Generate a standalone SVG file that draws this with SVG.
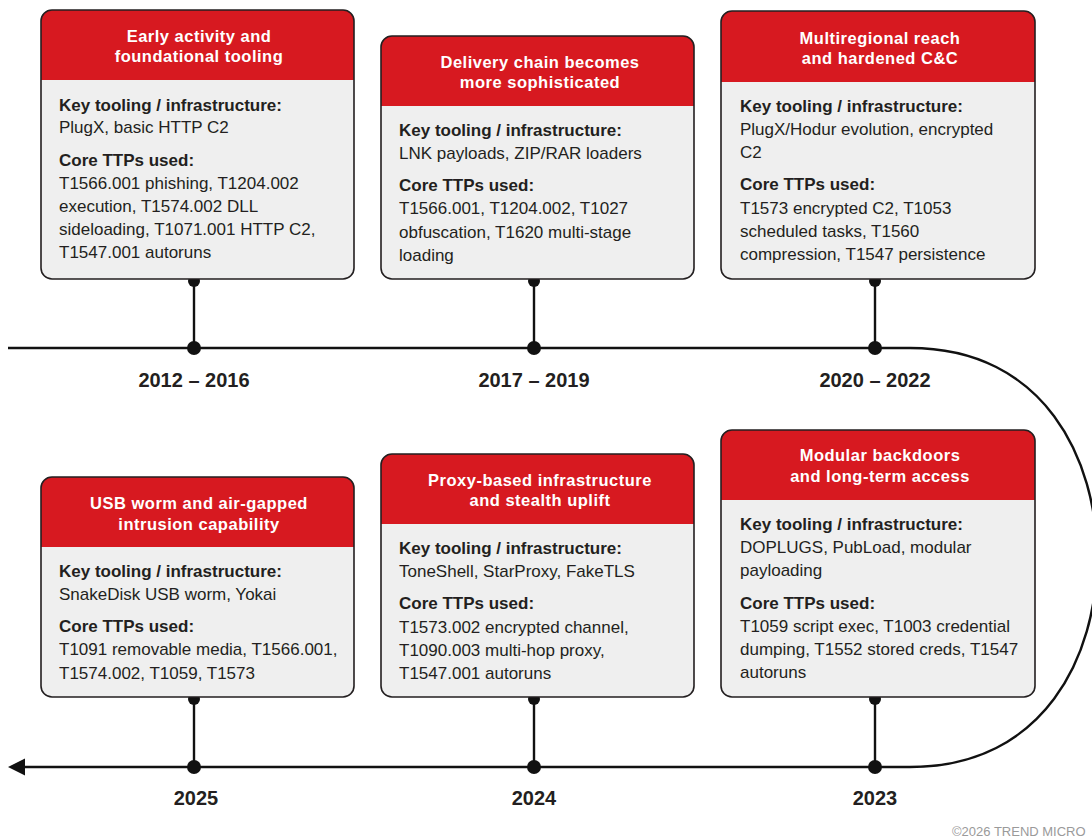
<svg xmlns="http://www.w3.org/2000/svg" width="1092" height="840" viewBox="0 0 1092 840">
<style>
.box{fill:#efefef;stroke:none}
.frame{fill:none;stroke:#231f20;stroke-width:1.6}
.hdr{fill:#d71920}
.ttl{font-family:"Liberation Sans",Arial,sans-serif;font-size:16.5px;font-weight:bold;fill:#fff;text-anchor:middle;letter-spacing:0.5px}
.lbl{font-family:"Liberation Sans",Arial,sans-serif;font-size:17px;font-weight:bold;fill:#231f20}
.txt{font-family:"Liberation Sans",Arial,sans-serif;font-size:17px;fill:#231f20}
.yr{font-family:"Liberation Sans",Arial,sans-serif;font-size:20px;font-weight:bold;fill:#231f20;text-anchor:middle}
.ln{fill:none;stroke:#111;stroke-width:2.4}
.dot{fill:#111}
.copy{font-family:"Liberation Sans",Arial,sans-serif;font-size:13px;fill:#9a9a9a}
</style>

<g id="connectors">
<path class="ln" d="M8,348 H910 C1045,348 1097,460 1097,557.5 C1097,655 1045,767 910,767 H24"/>
<path d="M8,767 L25,758.5 L25,775.5 Z" fill="#111"/>
<line class="ln" x1="194" y1="279" x2="194" y2="348"/>
<line class="ln" x1="534" y1="279" x2="534" y2="348"/>
<line class="ln" x1="875" y1="279" x2="875" y2="348"/>
<line class="ln" x1="194" y1="697" x2="194" y2="767"/>
<line class="ln" x1="534" y1="697" x2="534" y2="767"/>
<line class="ln" x1="875" y1="697" x2="875" y2="767"/>
<circle class="dot" cx="194" cy="281" r="6"/>
<circle class="dot" cx="534" cy="281" r="6"/>
<circle class="dot" cx="875" cy="281" r="6"/>
<circle class="dot" cx="194" cy="348" r="7"/>
<circle class="dot" cx="534" cy="348" r="7"/>
<circle class="dot" cx="875" cy="348" r="7"/>
<circle class="dot" cx="194" cy="699" r="6"/>
<circle class="dot" cx="534" cy="699" r="6"/>
<circle class="dot" cx="875" cy="699" r="6"/>
<circle class="dot" cx="194" cy="767" r="7"/>
<circle class="dot" cx="534" cy="767" r="7"/>
<circle class="dot" cx="875" cy="767" r="7"/>
</g>

<g id="node-2012-2016">
<rect class="box" x="41" y="10" width="313" height="269" rx="11"/>
<path class="hdr" d="M41,80 V21 A11,11 0 0 1 52,10 H343 A11,11 0 0 1 354,21 V80 Z"/>
<rect class="frame" x="41" y="10" width="313" height="269" rx="11"/>
<text class="ttl" x="199" y="42">Early activity and</text>
<text class="ttl" x="199" y="62">foundational tooling</text>
<text class="lbl" x="59" y="111">Key tooling / infrastructure:</text>
<text class="txt" x="59" y="133">PlugX, basic HTTP C2</text>
<text class="lbl" x="59" y="166">Core TTPs used:</text>
<text class="txt" x="59" y="189">T1566.001 phishing, T1204.002</text>
<text class="txt" x="59" y="212">execution, T1574.002 DLL</text>
<text class="txt" x="59" y="235">sideloading, T1071.001 HTTP C2,</text>
<text class="txt" x="59" y="258">T1547.001 autoruns</text>
</g>

<g id="node-2017-2019">
<rect class="box" x="381" y="36" width="313" height="243" rx="11"/>
<path class="hdr" d="M381,106 V47 A11,11 0 0 1 392,36 H683 A11,11 0 0 1 694,47 V106 Z"/>
<rect class="frame" x="381" y="36" width="313" height="243" rx="11"/>
<text class="ttl" x="540" y="68">Delivery chain becomes</text>
<text class="ttl" x="540" y="88">more sophisticated</text>
<text class="lbl" x="399" y="136">Key tooling / infrastructure:</text>
<text class="txt" x="399" y="159">LNK payloads, ZIP/RAR loaders</text>
<text class="lbl" x="399" y="191">Core TTPs used:</text>
<text class="txt" x="399" y="214">T1566.001, T1204.002, T1027</text>
<text class="txt" x="399" y="238">obfuscation, T1620 multi-stage</text>
<text class="txt" x="399" y="261">loading</text>
</g>

<g id="node-2020-2022">
<rect class="box" x="721" y="11" width="314" height="268" rx="11"/>
<path class="hdr" d="M721,82 V22 A11,11 0 0 1 732,11 H1024 A11,11 0 0 1 1035,22 V82 Z"/>
<rect class="frame" x="721" y="11" width="314" height="268" rx="11"/>
<text class="ttl" x="880" y="44">Multiregional reach</text>
<text class="ttl" x="880" y="64">and hardened C&amp;C</text>
<text class="lbl" x="740" y="112">Key tooling / infrastructure:</text>
<text class="txt" x="740" y="135">PlugX/Hodur evolution, encrypted</text>
<text class="txt" x="740" y="158">C2</text>
<text class="lbl" x="740" y="190">Core TTPs used:</text>
<text class="txt" x="740" y="214">T1573 encrypted C2, T1053</text>
<text class="txt" x="740" y="237">scheduled tasks, T1560</text>
<text class="txt" x="740" y="260">compression, T1547 persistence</text>
</g>

<g id="node-2025">
<rect class="box" x="41" y="477" width="313" height="220" rx="11"/>
<path class="hdr" d="M41,547 V488 A11,11 0 0 1 52,477 H343 A11,11 0 0 1 354,488 V547 Z"/>
<rect class="frame" x="41" y="477" width="313" height="220" rx="11"/>
<text class="ttl" x="199" y="509">USB worm and air-gapped</text>
<text class="ttl" x="199" y="530">intrusion capability</text>
<text class="lbl" x="59" y="577">Key tooling / infrastructure:</text>
<text class="txt" x="59" y="600">SnakeDisk USB worm, Yokai</text>
<text class="lbl" x="59" y="632">Core TTPs used:</text>
<text class="txt" x="59" y="655">T1091 removable media, T1566.001,</text>
<text class="txt" x="59" y="679">T1574.002, T1059, T1573</text>
</g>

<g id="node-2024">
<rect class="box" x="381" y="454" width="313" height="243" rx="11"/>
<path class="hdr" d="M381,524 V465 A11,11 0 0 1 392,454 H683 A11,11 0 0 1 694,465 V524 Z"/>
<rect class="frame" x="381" y="454" width="313" height="243" rx="11"/>
<text class="ttl" x="540" y="486">Proxy-based infrastructure</text>
<text class="ttl" x="540" y="506">and stealth uplift</text>
<text class="lbl" x="399" y="554">Key tooling / infrastructure:</text>
<text class="txt" x="399" y="577">ToneShell, StarProxy, FakeTLS</text>
<text class="lbl" x="399" y="609">Core TTPs used:</text>
<text class="txt" x="399" y="633">T1573.002 encrypted channel,</text>
<text class="txt" x="399" y="656">T1090.003 multi-hop proxy,</text>
<text class="txt" x="399" y="679">T1547.001 autoruns</text>
</g>

<g id="node-2023">
<rect class="box" x="721" y="430" width="314" height="267" rx="11"/>
<path class="hdr" d="M721,500 V441 A11,11 0 0 1 732,430 H1024 A11,11 0 0 1 1035,441 V500 Z"/>
<rect class="frame" x="721" y="430" width="314" height="267" rx="11"/>
<text class="ttl" x="880" y="461">Modular backdoors</text>
<text class="ttl" x="880" y="482">and long-term access</text>
<text class="lbl" x="740" y="530">Key tooling / infrastructure:</text>
<text class="txt" x="740" y="553">DOPLUGS, PubLoad, modular</text>
<text class="txt" x="740" y="576">payloading</text>
<text class="lbl" x="740" y="609">Core TTPs used:</text>
<text class="txt" x="740" y="632">T1059 script exec, T1003 credential</text>
<text class="txt" x="740" y="655">dumping, T1552 stored creds, T1547</text>
<text class="txt" x="740" y="678">autoruns</text>
</g>

<g id="year-labels">
<text class="yr" x="194" y="387">2012 – 2016</text>
<text class="yr" x="534" y="387">2017 – 2019</text>
<text class="yr" x="875" y="387">2020 – 2022</text>
<text class="yr" x="196" y="805">2025</text>
<text class="yr" x="534" y="805">2024</text>
<text class="yr" x="875" y="805">2023</text>
</g>

<text class="copy" x="952" y="836">©2026 TREND MICRO</text>
</svg>
